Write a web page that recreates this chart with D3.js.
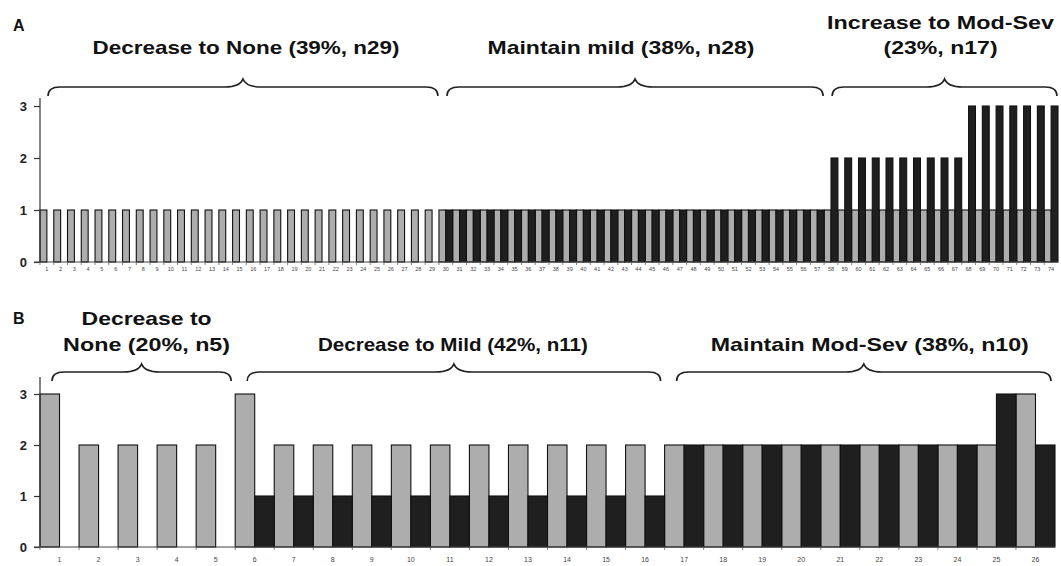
<!DOCTYPE html>
<html>
<head>
<meta charset="utf-8">
<script src="https://cdn.jsdelivr.net/npm/d3@7"></script>
<style>
  html, body { margin: 0; padding: 0; background: #fff; }
  svg { display: block; }
</style>
</head>
<body>
<svg id="chart" width="1061" height="566"></svg>
<script>
// ---------- DATA ----------
const patientsA = [1,2,3,4,5,6,7,8,9,10,11,12,13,14,15,16,17,18,19,20,21,22,23,24,25,26,27,28,29,30,31,32,33,34,35,36,37,38,39,40,41,42,43,44,45,46,47,48,49,50,51,52,53,54,55,56,57,58,59,60,61,62,63,64,65,66,67,68,69,70,71,72,73,74];
const baselineA = [1,1,1,1,1,1,1,1,1,1,1,1,1,1,1,1,1,1,1,1,1,1,1,1,1,1,1,1,1,1,1,1,1,1,1,1,1,1,1,1,1,1,1,1,1,1,1,1,1,1,1,1,1,1,1,1,1,1,1,1,1,1,1,1,1,1,1,1,1,1,1,1,1,1];
const followupA = [0,0,0,0,0,0,0,0,0,0,0,0,0,0,0,0,0,0,0,0,0,0,0,0,0,0,0,0,0,1,1,1,1,1,1,1,1,1,1,1,1,1,1,1,1,1,1,1,1,1,1,1,1,1,1,1,1,2,2,2,2,2,2,2,2,2,2,3,3,3,3,3,3,3];

const patientsB = [1,2,3,4,5,6,7,8,9,10,11,12,13,14,15,16,17,18,19,20,21,22,23,24,25,26];
const baselineB = [3,2,2,2,2,3,2,2,2,2,2,2,2,2,2,2,2,2,2,2,2,2,2,2,2,3];
const followupB = [0,0,0,0,0,1,1,1,1,1,1,1,1,1,1,1,2,2,2,2,2,2,2,2,3,2];

const yTicks = [0,1,2,3];

const groupsA = [
  {from: 1,  to: 29, lines: ["Decrease to None (39%, n29)"]},
  {from: 30, to: 57, lines: ["Maintain mild (38%, n28)"]},
  {from: 58, to: 74, lines: ["Increase to Mod-Sev", "(23%, n17)"]}
];
const groupsB = [
  {from: 1,  to: 5,  lines: ["Decrease to", "None (20%, n5)"]},
  {from: 6,  to: 16, lines: ["Decrease to Mild (42%, n11)"]},
  {from: 17, to: 26, lines: ["Maintain Mod-Sev (38%, n10)"]}
];

// ---------- LAYOUT / STYLE ----------
const GREY = "#adadad", BLACK = "#1f1f1f";
const FONT = "'Liberation Sans', Arial, Helvetica, sans-serif";
const svg = d3.select("#chart");

const panels = [
  {
    letter: "A", letterY: 31,
    patients: patientsA, base: baselineA, follow: followupA, groups: groupsA,
    xRange: [40, 1058], yRange: [262, 106], axisTop: 98,
    xFont: 5.5, xLabelDy: 11,
    brace: {line: 87, peak: 79, end: 96, padL: 8, padR: 1},
    text: {baselines: [[54], [54], [29, 54]], dx: [3, -14, -4],
           widths: [[307], [267], [227, 114]]}
  },
  {
    letter: "B", letterY: 324,
    patients: patientsB, base: baselineB, follow: followupB, groups: groupsB,
    xRange: [40, 1055], yRange: [547, 394], axisTop: 377,
    xFont: 7, xLabelDy: 16,
    brace: {line: 372, peak: 364, end: 381, padL: 12, padR: 4},
    text: {baselines: [[325, 351], [351], [351]], dx: [5, -1, 6],
           widths: [[130, 167], [270], [318]]}
  }
];

panels.forEach(p => {
  const g = svg.append("g");
  const x = d3.scaleBand().domain(p.patients).range(p.xRange).padding(0);
  const y = d3.scaleLinear().domain([0, 3]).range(p.yRange);
  const bw = x.bandwidth();

  // panel letter
  g.append("text").attr("x", 13).attr("y", p.letterY)
    .attr("font-family", FONT).attr("font-weight", "bold").attr("font-size", 16)
    .attr("fill", "#111").text(p.letter);

  // bars
  const rows = p.patients.map((id, i) => ({id, base: p.base[i], follow: p.follow[i]}));
  g.append("g").selectAll("rect.base").data(rows.filter(d => d.base > 0)).join("rect")
    .attr("x", d => x(d.id)).attr("width", bw / 2)
    .attr("y", d => y(d.base)).attr("height", d => y(0) - y(d.base))
    .attr("fill", GREY).attr("stroke", "#111").attr("stroke-width", 1.1);
  g.append("g").selectAll("rect.follow").data(rows.filter(d => d.follow > 0)).join("rect")
    .attr("x", d => x(d.id) + bw / 2).attr("width", bw / 2)
    .attr("y", d => y(d.follow)).attr("height", d => y(0) - y(d.follow))
    .attr("fill", BLACK).attr("stroke", "#111").attr("stroke-width", 1.1);

  // y axis
  const ya = g.append("g").attr("transform", `translate(${p.xRange[0]},0)`)
    .call(d3.axisLeft(y).tickValues(yTicks).tickFormat(d3.format("d")).tickSize(6).tickPadding(7));
  ya.select(".domain").remove();
  ya.append("line").attr("x1", 0).attr("x2", 0).attr("y1", y(0)).attr("y2", p.axisTop)
    .attr("stroke", "#333").attr("stroke-width", 1.2);
  ya.selectAll(".tick line").attr("stroke", "#333").attr("stroke-width", 1.2);
  ya.selectAll(".tick text").attr("font-family", FONT).attr("font-weight", "bold")
    .attr("font-size", 13).attr("fill", "#222");

  // x axis
  const xa = g.append("g").attr("transform", `translate(0,${y(0)})`)
    .call(d3.axisBottom(x).tickSize(0).tickPadding(p.xLabelDy - 6));
  xa.select(".domain").attr("d", `M${p.xRange[0] - 6},0H${p.xRange[1]}`)
    .attr("stroke", "#444").attr("stroke-width", 1.2);
  xa.selectAll(".tick text").attr("font-family", FONT).attr("font-size", p.xFont)
    .attr("fill", "#444");
  // small ticks at band boundaries
  xa.append("g").selectAll("line").data(p.patients).join("line")
    .attr("x1", d => x(d)).attr("x2", d => x(d)).attr("y1", 0).attr("y2", 3)
    .attr("stroke", "#666").attr("stroke-width", 0.8);

  // braces and group titles
  const b = p.brace;
  p.groups.forEach((grp, gi) => {
    const x0 = x(grp.from) + b.padL;
    const x1 = x(grp.to) + bw - b.padR;
    const xm = (x0 + x1) / 2;
    const r = 12, rm = 10;
    const path = `M${x0},${b.end} Q${x0},${b.line} ${x0 + r},${b.line} ` +
      `L${xm - rm - 8},${b.line} Q${xm - 3},${b.line} ${xm},${b.peak} ` +
      `Q${xm + 3},${b.line} ${xm + rm + 8},${b.line} ` +
      `L${x1 - r},${b.line} Q${x1},${b.line} ${x1},${b.end}`;
    g.append("path").attr("d", path).attr("fill", "none")
      .attr("stroke", "#222").attr("stroke-width", 1.6);

    grp.lines.forEach((ln, li) => {
      g.append("text")
        .attr("x", xm + p.text.dx[gi]).attr("y", p.text.baselines[gi][li])
        .attr("text-anchor", "middle")
        .attr("font-family", FONT).attr("font-weight", "bold").attr("font-size", 19)
        .attr("fill", "#111")
        .attr("textLength", p.text.widths[gi][li]).attr("lengthAdjust", "spacingAndGlyphs")
        .text(ln);
    });
  });
});
</script>
</body>
</html>
